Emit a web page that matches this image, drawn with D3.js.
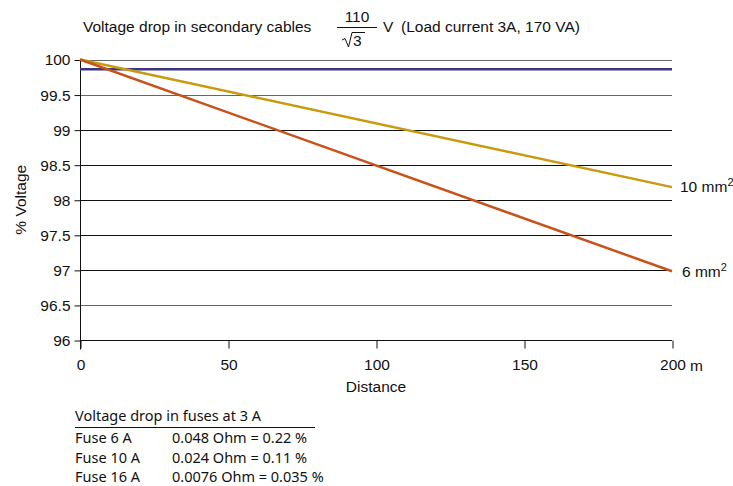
<!DOCTYPE html>
<html>
    <head>
        <script src="https://d3js.org/d3.v7.min.js"></script>
        <style>
            body { margin:0; background:#fff; }
            text { font-family: "Liberation Sans", Arial, sans-serif; fill:#111; }
            .tbl { font-family: "Noto Sans", sans-serif; font-size:14.5px; }
        </style>
    </head>
    <body>
        <svg id="chart" width="733" height="486"></svg>
        <script>
            // data
            var distances = [0, 200];
            var cable10 = [100, 98.18];
            var cable6 = [100, 96.98];
            var fuseLevel = [99.86, 99.86];
            var yTicks = [96, 96.5, 97, 97.5, 98, 98.5, 99, 99.5, 100];
            var xTicks = [0, 50, 100, 150, 200];
            var fuseRows = [
                ["Fuse 6 A", "0.048 Ohm = 0.22 %"],
                ["Fuse 10 A", "0.024 Ohm = 0.11 %"],
                ["Fuse 16 A", "0.0076 Ohm = 0.035 %"]
            ];

            var fs = "15.5px";
            var svg = d3.select("#chart");

            var x = d3.scaleLinear().domain([0, 200]).range([80, 672]);
            var y = d3.scaleLinear().domain([96, 100]).range([340, 59.5]);

            // grid lines
            svg.append("g").selectAll("line")
                .data(yTicks)
                .enter().append("line")
                .attr("x1", x(0)).attr("x2", x(200))
                .attr("y1", function (d) { return Math.round(y(d)) + 0.5; })
                .attr("y2", function (d) { return Math.round(y(d)) + 0.5; })
                .attr("stroke", function (d) { return (d == 100 || d == 99.5 || d == 96.5) ? "#666" : "#111"; })
                .attr("stroke-width", 1);

            // y axis
            var yAxis = d3.axisLeft(y).tickValues(yTicks).tickSize(6).tickPadding(4)
                .tickFormat(function (d) { return String(d); });
            var gy = svg.append("g").attr("transform", "translate(80.5,0.5)").call(yAxis);
            gy.select(".domain").attr("d", "M0," + y(100) + "V" + (y(96) + 9));
            gy.selectAll(".tick text").style("font-size", fs);

            // x axis
            var xAxis = d3.axisBottom(x).tickValues(xTicks).tickSize(8).tickPadding(8)
                .tickFormat(d3.format("d"));
            var gx = svg.append("g").attr("transform", "translate(0.5," + (Math.round(y(96)) + 0.5) + ")").call(xAxis);
            gx.select(".domain").remove();
            gx.selectAll(".tick text").style("font-size", fs).attr("dy", "0.85em");
            svg.append("text").attr("x", x(200) + 18).attr("y", y(96) + 31)
                .style("font-size", fs).text("m");

            svg.selectAll(".domain").attr("stroke", "#111");
            svg.selectAll(".tick line").attr("stroke", "#111");
            svg.selectAll(".tick text").attr("fill", "#111").style("font-family", "Liberation Sans, Arial, sans-serif");

            // axis titles
            svg.append("text").attr("x", x(100)).attr("y", 392)
                .attr("text-anchor", "middle").style("font-size", fs).text("Distance");
            svg.append("text").attr("transform", "translate(26," + y(98) + ") rotate(-90)")
                .attr("text-anchor", "middle").style("font-size", fs).text("% Voltage");

            // series
            var line = d3.line()
                .x(function (d, i) { return x(distances[i]); })
                .y(function (d) { return y(d); });

            svg.append("path").datum(fuseLevel).attr("d", line)
                .attr("fill", "none").attr("stroke", "#3b3584").attr("stroke-width", 2.5);
            svg.append("path").datum(cable10).attr("d", line)
                .attr("fill", "none").attr("stroke", "#c99a0e").attr("stroke-width", 2.5);
            svg.append("path").datum(cable6).attr("d", line)
                .attr("fill", "none").attr("stroke", "#c8521c").attr("stroke-width", 2.5);

            // line labels
            var lab10 = svg.append("text").attr("x", x(200) + 8).attr("y", y(cable10[1]) + 5).style("font-size", fs);
            lab10.append("tspan").text("10 mm");
            lab10.append("tspan").attr("dy", -6).style("font-size", "11px").text("2");
            var lab6 = svg.append("text").attr("x", x(200) + 10).attr("y", y(cable6[1]) + 6).style("font-size", fs);
            lab6.append("tspan").text("6 mm");
            lab6.append("tspan").attr("dy", -6).style("font-size", "11px").text("2");

            // title
            svg.append("text").attr("x", 83).attr("y", 32).style("font-size", fs)
                .text("Voltage drop in secondary cables");
            svg.append("text").attr("x", 357).attr("y", 22).attr("text-anchor", "middle")
                .style("font-size", fs).text("110");
            svg.append("line").attr("x1", 337).attr("x2", 377).attr("y1", 27.5).attr("y2", 27.5)
                .attr("stroke", "#111").attr("stroke-width", 1);
            // sqrt sign
            svg.append("path").attr("d", "M342,40 L345,38.5 L348.5,47 L352,32.5 L365,32.5")
                .attr("fill", "none").attr("stroke", "#111").attr("stroke-width", 1);
            svg.append("text").attr("x", 353).attr("y", 46).style("font-size", fs).text("3");
            svg.append("text").attr("x", 383).attr("y", 32).style("font-size", fs).text("V");
            svg.append("text").attr("x", 401).attr("y", 32).style("font-size", fs)
                .text("(Load current 3A, 170 VA)");

            // fuse table
            svg.append("text").attr("class", "tbl").attr("x", 75).attr("y", 421)
                .text("Voltage drop in fuses at 3 A");
            svg.append("line").attr("x1", 75).attr("x2", 315).attr("y1", 427.5).attr("y2", 427.5)
                .attr("stroke", "#111").attr("stroke-width", 1);
            var rows = svg.append("g").selectAll("g").data(fuseRows).enter().append("g");
            rows.append("text").attr("class", "tbl").attr("x", 75)
                .attr("y", function (d, i) { return 443 + i * 19.5; })
                .text(function (d) { return d[0]; });
            rows.append("text").attr("class", "tbl").attr("x", 172)
                .attr("y", function (d, i) { return 443 + i * 19.5; })
                .text(function (d) { return d[1]; });
        </script>
    </body>
</html>
